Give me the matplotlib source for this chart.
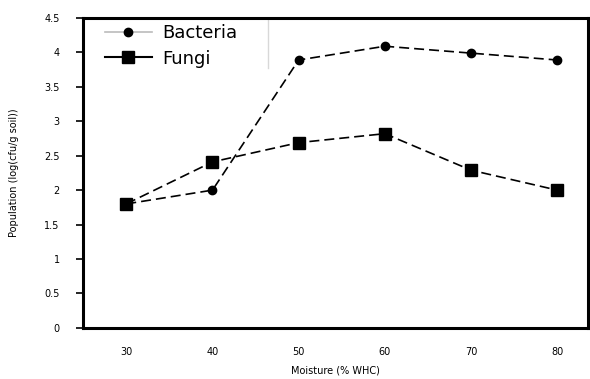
import matplotlib.pyplot as plt
from matplotlib.lines import Line2D

# Moisture levels and log populations
moisture = [30, 40, 50, 60, 70, 80]
bacteria = [1.80, 2.00, 3.89, 4.09, 3.99, 3.89]
fungi = [1.80, 2.41, 2.69, 2.82, 2.29, 2.00]
y_ticks = [0, 0.5, 1, 1.5, 2, 2.5, 3, 3.5, 4, 4.5]
y_labels = ["0", "0.5", "1", "1.5", "2", "2.5", "3", "3.5", "4", "4.5"]

fig = plt.figure(figsize=(5.9, 3.79), dpi=100)
ax = fig.add_axes([0.141, 0.135, 0.856, 0.8175])

ax.plot(moisture, bacteria, color='black', linestyle=(0, (6, 3)), linewidth=1.2,
        marker='o', markersize=6)
ax.plot(moisture, fungi, color='black', linestyle=(0, (6, 3)), linewidth=1.2,
        marker='s', markersize=9)

ax.set_xlim(25, 83.6)
ax.set_ylim(0, 4.5)
ax.set_xticks(moisture)
ax.set_yticks(y_ticks)
ax.set_yticklabels(y_labels)
ax.tick_params(axis='both', labelsize=7, width=1.2)
ax.tick_params(axis='y', length=5, pad=12)
ax.tick_params(axis='x', length=0, pad=14)

for side in ['top', 'bottom', 'left', 'right']:
    ax.spines[side].set_linewidth(2.2)

ax.set_xlabel("Moisture (% WHC)", fontsize=7, labelpad=6)
ax.set_ylabel("Population (log(cfu/g soil))", fontsize=7, labelpad=18)

# legend uses solid handle lines
handles = [
    Line2D([], [], color='#bbbbbb', linewidth=1.2, marker='o', markersize=6,
           markerfacecolor='black', markeredgecolor='black'),
    Line2D([], [], color='black', linewidth=1.5, marker='s', markersize=9),
]
leg = ax.legend(handles, ["Bacteria", "Fungi"], loc='upper left',
                bbox_to_anchor=(0.03, 1.0), fontsize=13, frameon=False,
                borderaxespad=0, handlelength=2.6, handletextpad=0.6,
                borderpad=0.35, labelspacing=0.4)

# faint right edge of the legend box
ax.plot([0.366, 0.366], [1.0, 0.84], transform=ax.transAxes,
        color='#d8d8d8', linewidth=1.0, clip_on=False)

plt.savefig("out.png", dpi=100)
